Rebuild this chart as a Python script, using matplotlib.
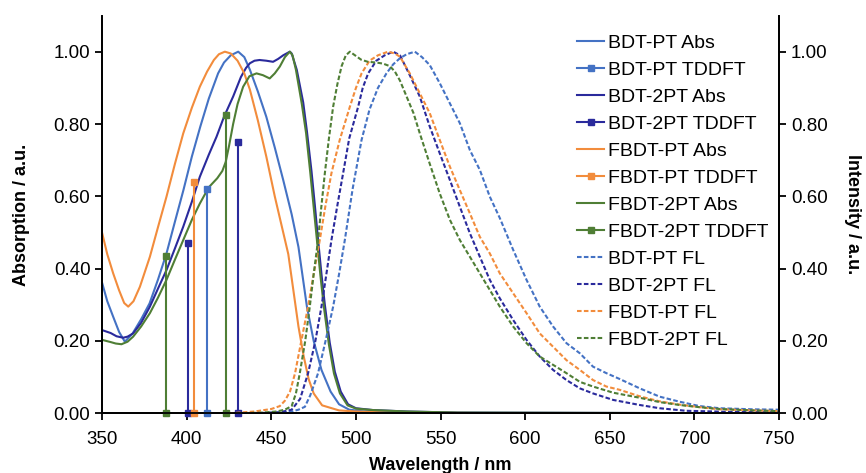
import matplotlib
matplotlib.use('Agg')
import matplotlib.pyplot as plt
from matplotlib.lines import Line2D

plt.rcParams['font.family'] = ['Liberation Sans', 'DejaVu Sans']

# absorption spectra (normalised)
bdt_pt_abs_wl = [350, 353, 356.5, 360, 363.4, 368, 373, 378, 383, 388, 393, 398, 403, 408, 413,
                 418.5, 422, 426, 430.4, 434, 437.3, 442, 447, 452, 457, 462, 466, 471, 475, 479.6,
                 485, 490, 496, 505, 520, 550, 600, 750]
bdt_pt_abs = [0.36, 0.31, 0.267, 0.225, 0.198, 0.221, 0.26, 0.304, 0.37, 0.442, 0.53, 0.617, 0.71,
              0.793, 0.87, 0.94, 0.97, 0.99, 1.0, 0.985, 0.95, 0.89, 0.82, 0.735, 0.645, 0.55, 0.46,
              0.295, 0.2, 0.12, 0.06, 0.025, 0.01, 0.005, 0.002, 0.001, 0, 0]

bdt_2pt_abs_wl = [350, 355, 358.5, 362.4, 365, 368.3, 373, 378.2, 383, 388, 393, 397.9, 403, 407.7,
                  413, 417.6, 422, 427.4, 432, 435, 437.3, 440, 443, 447, 451, 454, 457, 460.9, 462,
                  465, 468.8, 471, 473.7, 475.7, 477.6, 479.6, 481.6, 484.5, 487.5, 491, 495.3, 500,
                  510, 530, 560, 750]
bdt_2pt_abs = [0.23, 0.222, 0.213, 0.209, 0.212, 0.221, 0.25, 0.295, 0.345, 0.396, 0.456, 0.516,
               0.585, 0.654, 0.715, 0.765, 0.82, 0.876, 0.93, 0.955, 0.968, 0.975, 0.977, 0.975,
               0.972, 0.98, 0.99, 1.0, 0.995, 0.95, 0.86, 0.78, 0.67, 0.575, 0.48, 0.385, 0.3, 0.195,
               0.115, 0.06, 0.025, 0.014, 0.009, 0.005, 0.002, 0]

fbdt_pt_abs_wl = [350, 353, 356.5, 360, 363, 365.4, 368.5, 372.3, 378.2, 383, 388, 393, 397.9, 403,
                  407.7, 412, 416, 419, 422.5, 426, 430, 434, 437.3, 442, 447, 452, 457, 460, 463,
                  466, 469, 472, 475, 480, 490, 500, 520, 600, 750]
fbdt_pt_abs = [0.498, 0.44, 0.387, 0.34, 0.305, 0.295, 0.31, 0.35, 0.433, 0.515, 0.599, 0.69, 0.774,
               0.845, 0.903, 0.945, 0.977, 0.993, 1.0, 0.995, 0.975, 0.94, 0.895, 0.81, 0.71, 0.6,
               0.5, 0.44, 0.34, 0.24, 0.16, 0.095, 0.055, 0.022, 0.008, 0.005, 0.002, 0, 0]

fbdt_2pt_abs_wl = [350, 355, 358, 361.4, 365, 368.3, 373, 378.2, 383, 388, 393, 397.9, 403, 407.7,
                   413, 418, 421, 423, 425, 427.4, 430, 433.3, 437, 441.2, 445, 449, 452, 455, 458,
                   460.9, 462.5, 464.5, 468, 470.5, 473, 475, 477, 479, 481, 484, 487, 490.5, 495,
                   500, 510, 530, 560, 750]
fbdt_2pt_abs = [0.203, 0.197, 0.193, 0.191, 0.198, 0.212, 0.24, 0.277, 0.32, 0.369, 0.425, 0.479,
                0.535, 0.58, 0.625, 0.65, 0.67, 0.695, 0.74, 0.8, 0.855, 0.903, 0.932, 0.94, 0.935,
                0.926, 0.94, 0.959, 0.985, 1.0, 0.99, 0.95, 0.855, 0.775, 0.665, 0.57, 0.475, 0.38,
                0.295, 0.19, 0.11, 0.055, 0.022, 0.013, 0.009, 0.005, 0.002, 0]

# TDDFT transitions
bdt_pt_td_wl = [412]
bdt_pt_td = [0.62]
bdt_2pt_td_wl = [401, 430]
bdt_2pt_td = [0.47, 0.75]
fbdt_pt_td_wl = [404.5]
fbdt_pt_td = [0.64]
fbdt_2pt_td_wl = [388, 423]
fbdt_2pt_td = [0.435, 0.825]

# fluorescence spectra (normalised)
bdt_pt_fl_wl = [440, 455, 462, 466, 469.8, 473, 477.6, 482, 486.5, 490, 493.4, 498, 503.3, 508, 513,
                518, 522, 526, 530, 534.8, 539, 543.6, 549.5, 555.5, 561.4, 567.3, 573.2, 579.1, 585,
                592.9, 600.8, 608.6, 616.5, 624.4, 632.3, 640.1, 648, 655.8, 667.7, 679.5, 691.3,
                703, 715, 735, 750]
bdt_pt_fl = [0.0, 0.002, 0.005, 0.01, 0.018, 0.05, 0.111, 0.2, 0.295, 0.385, 0.479, 0.62, 0.756,
             0.84, 0.9, 0.94, 0.965, 0.982, 0.993, 1.0, 0.985, 0.963, 0.913, 0.857, 0.802, 0.728,
             0.673, 0.599, 0.54, 0.452, 0.369, 0.295, 0.24, 0.194, 0.166, 0.129, 0.111, 0.095,
             0.069, 0.046, 0.032, 0.02, 0.014, 0.011, 0.01]

bdt_2pt_fl_wl = [440, 455, 462, 467, 471.7, 476, 479.6, 482.5, 485.5, 489, 492.4, 496, 501.3, 504,
                 507.2, 512, 517, 522, 526, 531.8, 537.7, 543.6, 549.5, 555.5, 561.4, 567.3, 573.2,
                 579.1, 585, 592.9, 600.8, 608.6, 616.5, 624.4, 632.3, 640.1, 652, 667.7, 679.5,
                 695, 720, 750]
bdt_2pt_fl = [0.0, 0.003, 0.01, 0.04, 0.111, 0.2, 0.295, 0.385, 0.479, 0.575, 0.664, 0.76, 0.848,
              0.9, 0.94, 0.975, 0.99, 1.0, 0.99, 0.935, 0.876, 0.793, 0.719, 0.645, 0.571, 0.498,
              0.433, 0.369, 0.318, 0.258, 0.203, 0.157, 0.12, 0.092, 0.069, 0.055, 0.037, 0.023,
              0.014, 0.007, 0.004, 0.003]

fbdt_pt_fl_wl = [425, 440, 450, 455, 458, 461, 464, 467.8, 471.7, 475, 478.6, 482, 485.5, 490.4,
                 496.4, 500, 503.3, 508, 513, 519, 523, 526, 531.8, 537.7, 543.6, 549.5, 555.5,
                 561.4, 567.3, 573.2, 579.1, 585, 592.9, 600.8, 608.6, 616.5, 624.4, 632.3, 640.1,
                 648, 655.8, 667.7, 679.5, 691.3, 703, 715, 735, 750]
fbdt_pt_fl = [0.0, 0.005, 0.012, 0.02, 0.035, 0.06, 0.111, 0.203, 0.295, 0.385, 0.479, 0.575, 0.664,
              0.756, 0.848, 0.9, 0.94, 0.975, 0.99, 1.0, 0.995, 0.986, 0.94, 0.885, 0.83, 0.756,
              0.682, 0.617, 0.553, 0.488, 0.442, 0.387, 0.332, 0.277, 0.221, 0.184, 0.147, 0.12,
              0.092, 0.074, 0.065, 0.047, 0.033, 0.024, 0.017, 0.011, 0.008, 0.006]

fbdt_2pt_fl_wl = [430, 445, 453, 458, 462, 464.5, 466.8, 470, 472.7, 475, 477.6, 479.5, 481.6, 484,
                  486.5, 489, 491.5, 494, 496.4, 500, 503, 507, 512, 516, 520, 523, 526, 530, 534,
                  538, 543.6, 549.5, 555.5, 561.4, 567.3, 573.2, 579.1, 585, 592.9, 600.8, 608.6,
                  616.5, 624.4, 632.3, 640.1, 652, 667.7, 679.5, 691.3, 703, 715, 735, 750]
fbdt_2pt_fl = [0.0, 0.002, 0.005, 0.01, 0.02, 0.055, 0.111, 0.2, 0.295, 0.385, 0.479, 0.57, 0.664,
               0.76, 0.848, 0.91, 0.96, 0.99, 1.0, 0.988, 0.978, 0.972, 0.97, 0.967, 0.96, 0.945,
               0.92, 0.875, 0.83, 0.77, 0.69, 0.608, 0.535, 0.479, 0.433, 0.387, 0.341, 0.295, 0.24,
               0.194, 0.157, 0.134, 0.111, 0.087, 0.074, 0.057, 0.043, 0.031, 0.023, 0.017, 0.012,
               0.008, 0.006]

c_bdt_pt = '#4472C4'
c_bdt_2pt = '#2A2A9C'
c_fbdt_pt = '#F28C3C'
c_fbdt_2pt = '#4F7E35'
lw = 1.5
dash = (0, (2.2, 1.1))

fig = plt.figure(figsize=(8.66, 4.73), dpi=100)
ax = fig.add_axes([0.118, 0.1262, 0.7815, 0.841])
ax2 = ax.twinx()


def stems(axis, wls, vals, color):
    # one vertical line per transition with square markers at both ends
    for w, v in zip(wls, vals):
        axis.plot([w, w], [0, v], color=color, lw=lw, marker='s', markersize=4.5,
                  clip_on=False, zorder=3)


ax.plot(bdt_pt_abs_wl, bdt_pt_abs, color=c_bdt_pt, lw=lw)
stems(ax, bdt_pt_td_wl, bdt_pt_td, c_bdt_pt)
ax.plot(bdt_2pt_abs_wl, bdt_2pt_abs, color=c_bdt_2pt, lw=lw)
stems(ax, bdt_2pt_td_wl, bdt_2pt_td, c_bdt_2pt)
ax.plot(fbdt_pt_abs_wl, fbdt_pt_abs, color=c_fbdt_pt, lw=lw)
stems(ax, fbdt_pt_td_wl, fbdt_pt_td, c_fbdt_pt)
ax.plot(fbdt_2pt_abs_wl, fbdt_2pt_abs, color=c_fbdt_2pt, lw=lw)
stems(ax, fbdt_2pt_td_wl, fbdt_2pt_td, c_fbdt_2pt)

ax2.plot(bdt_pt_fl_wl, bdt_pt_fl, color=c_bdt_pt, lw=lw, linestyle=dash)
ax2.plot(bdt_2pt_fl_wl, bdt_2pt_fl, color=c_bdt_2pt, lw=lw, linestyle=dash)
ax2.plot(fbdt_pt_fl_wl, fbdt_pt_fl, color=c_fbdt_pt, lw=lw, linestyle=dash)
ax2.plot(fbdt_2pt_fl_wl, fbdt_2pt_fl, color=c_fbdt_2pt, lw=lw, linestyle=dash)

for a in (ax, ax2):
    a.set_xlim(350, 750)
    a.set_ylim(0, 1.1)
    a.set_yticks([0, 0.2, 0.4, 0.6, 0.8, 1.0])
    a.set_yticklabels(['0.00', '0.20', '0.40', '0.60', '0.80', '1.00'])
    a.spines['top'].set_visible(False)
    a.tick_params(labelsize=13.5, width=1.3, length=5, direction='out')
    for s in a.spines.values():
        s.set_linewidth(1.3)

ax.set_xticks(range(350, 751, 50))
ax.tick_params(axis='x', pad=8)
ax.set_xlabel('Wavelength / nm', fontsize=13, fontweight='bold', labelpad=6)
ax.set_ylabel('Absorption / a.u.', fontsize=13, fontweight='bold', labelpad=17)
ax2.set_ylabel('Intensity / a.u.', fontsize=13, fontweight='bold', rotation=270, labelpad=24)

# legend
handles = []
labels = ['BDT-PT Abs', 'BDT-PT TDDFT', 'BDT-2PT Abs', 'BDT-2PT TDDFT',
          'FBDT-PT Abs', 'FBDT-PT TDDFT', 'FBDT-2PT Abs', 'FBDT-2PT TDDFT',
          'BDT-PT FL', 'BDT-2PT FL', 'FBDT-PT FL', 'FBDT-2PT FL']
for c in (c_bdt_pt, c_bdt_2pt, c_fbdt_pt, c_fbdt_2pt):
    handles.append(Line2D([], [], color=c, lw=lw))
    handles.append(Line2D([], [], color=c, lw=lw, marker='s', markersize=4.5))
for c in (c_bdt_pt, c_bdt_2pt, c_fbdt_pt, c_fbdt_2pt):
    handles.append(Line2D([], [], color=c, lw=lw, linestyle=dash))
ax2.legend(handles, labels, loc='upper left', bbox_to_anchor=(0.7015, 0.952), frameon=False,
           fontsize=14, handlelength=1.4, handletextpad=0.2, labelspacing=0.48,
           borderaxespad=0, borderpad=0)

fig.savefig('out.png', dpi=100)
